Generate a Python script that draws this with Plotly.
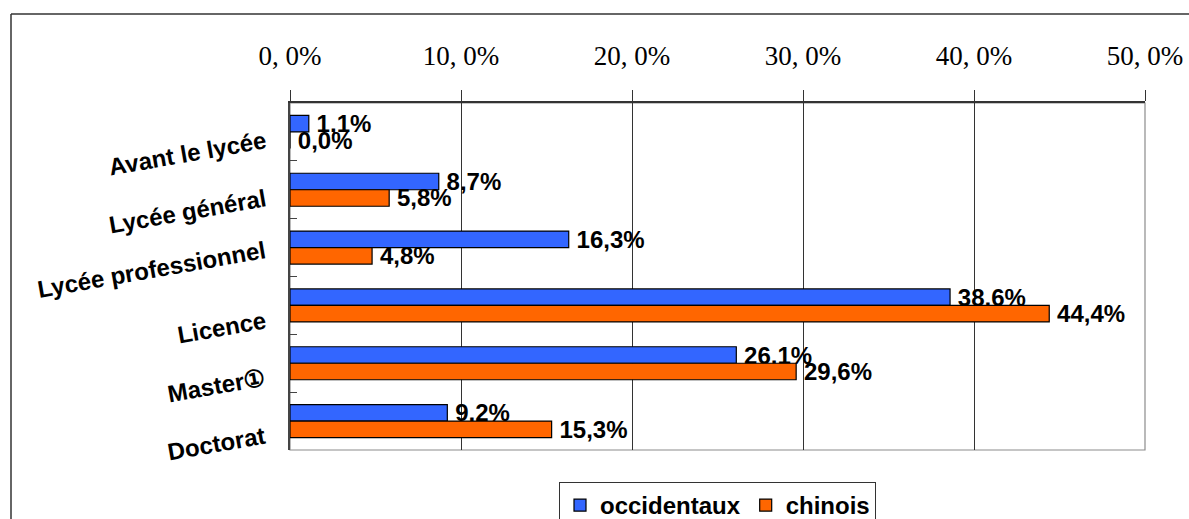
import plotly.graph_objects as go

categories = ["Avant le lycée", "Lycée général", "Lycée professionnel", "Licence", "Master①", "Doctorat"]
occidentaux = [1.1, 8.7, 16.3, 38.6, 26.1, 9.2]
chinois = [0.0, 5.8, 4.8, 44.4, 29.6, 15.3]
tick_vals = [0, 10, 20, 30, 40, 50]
tick_text = ["0, 0%", "10, 0%", "20, 0%", "30, 0%", "40, 0%", "50, 0%"]
series_names = ["occidentaux", "chinois"]
colors = ["#3366FF", "#FF6600"]


def fmt(v):
    return "\u2009" + f"{v:.1f}".replace(".", ",") + "%"


W, H = 1189, 519
ML, MR, MT, MB = 290, 44, 103, 69
PW, PH = W - ML - MR, H - MT - MB


def px_x(p):
    return (p - ML) / PW


def px_y(p):
    return (H - MB - p) / PH


label_font = dict(family="Liberation Sans, Arial, sans-serif", size=24, color="black", weight="bold")

fig = go.Figure()
for name, vals, col in zip(series_names, [occidentaux, chinois], colors):
    fig.add_trace(go.Bar(
        y=categories, x=vals, orientation="h", name=name,
        marker=dict(color=col, line=dict(color="black", width=1.2)),
        text=[fmt(v) for v in vals], textposition="outside",
        textfont=label_font, cliponaxis=False, constraintext="none",
    ))

annotations = []
for c in categories:
    annotations.append(dict(
        x=0, xref="paper", y=c, yref="y", text=c, showarrow=False,
        xanchor="right", yanchor="middle", xshift=-20, yshift=-22,
        textangle=-10, font=label_font,
    ))

shapes = [
    dict(type="rect", xref="paper", yref="paper", x0=0, x1=1, y0=0, y1=1,
         line=dict(color="#8c8c8c", width=1.2), layer="below"),
    dict(type="line", xref="paper", yref="paper", x0=px_x(11), x1=px_x(W), y0=px_y(14), y1=px_y(14),
         line=dict(color="#333333", width=1.5)),
    dict(type="line", xref="paper", yref="paper", x0=px_x(11), x1=px_x(11), y0=px_y(14), y1=px_y(W),
         line=dict(color="#333333", width=1.5)),
]

fig.update_layout(
    width=W, height=H,
    margin=dict(l=ML, r=MR, t=MT, b=MB, pad=0, autoexpand=False),
    paper_bgcolor="white", plot_bgcolor="white",
    barmode="group", bargap=0.43, bargroupgap=0,
    showlegend=True,
    legend=dict(
        orientation="h", x=0.5, xanchor="center", xref="paper",
        y=1 - 482 / H, yanchor="top", yref="container",
        font=label_font, bordercolor="#333333", borderwidth=1, bgcolor="white",
        traceorder="normal",
    ),
    xaxis=dict(
        side="top", range=[0, 50], tickvals=tick_vals, ticktext=tick_text,
        tickfont=dict(family="Liberation Serif, Times New Roman, serif", size=27, color="black"),
        showgrid=True, gridcolor="#333333", gridwidth=1,
        showline=True, linecolor="#333333", linewidth=1.5,
        ticks="outside", ticklen=11, tickcolor="#333333", tickwidth=1,
        ticklabelstandoff=14, zeroline=False, automargin=False,
    ),
    yaxis=dict(
        range=[len(categories) - 0.5, -0.5], showticklabels=False,
        showline=True, linecolor="#444444", linewidth=1.5,
        ticks="inside", tickson="boundaries", ticklen=7, tickcolor="#444444",
        showgrid=False, zeroline=False, automargin=False,
    ),
    annotations=annotations,
    shapes=shapes,
)

fig.write_html(
    "out.html",
    config={"displayModeBar": False},
    post_script="document.body.style.margin='0';document.body.style.overflow='hidden';",
)
